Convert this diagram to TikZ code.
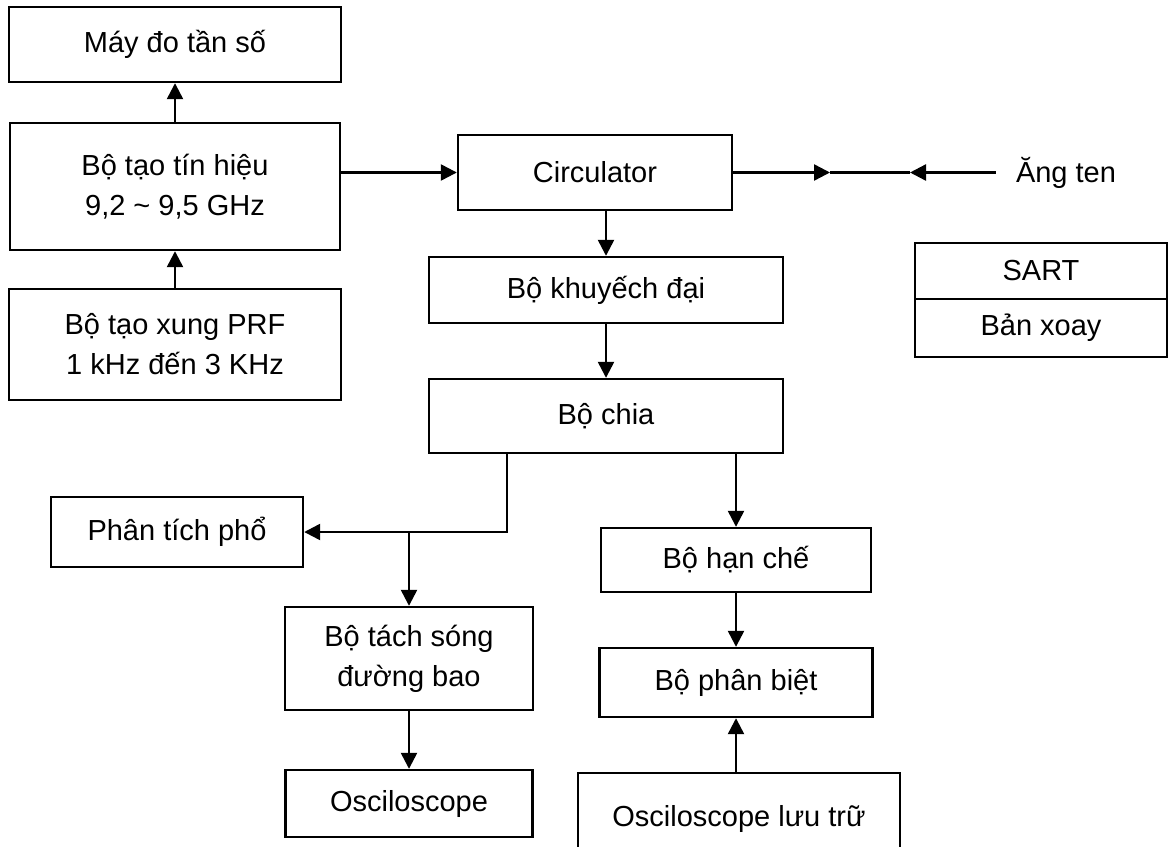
\documentclass[tikz,border=0pt]{standalone}
\usepackage{fontspec}
\setmainfont{Liberation Sans}
\usetikzlibrary{arrows.meta}

\begin{document}
\begin{tikzpicture}[x=0.5pt, y=-0.5pt,
    block/.style={draw, line width=1.2pt, align=center, inner sep=0pt, font=\fontsize{14.5}{20}\selectfont},
    arrow/.style={line width=1.2pt, -{Triangle[length=8pt, width=8pt]}}]

    \newcommand*{\sigy}{172.5}%
    \useasboundingbox (0,0) rectangle (1171,846);

    % left column ↓
    \node [block, minimum width=166pt, minimum height=37.5pt] (may) at (175,44.5) {Máy đo tần số};
    \node [block, minimum width=165pt, minimum height=63.5pt] (gen) at (175,186.5) {Bộ tạo tín hiệu\\9,2 \textasciitilde{} 9,5 GHz};
    \node [block, minimum width=166pt, minimum height=55.5pt] (prf) at (175,344.5) {Bộ tạo xung PRF\\1 kHz đến 3 KHz};

    % middle column ↓
    \node [block, minimum width=137pt, minimum height=37.5pt] (circ) at (595,\sigy) {Circulator};
    \node [block, minimum width=177pt, minimum height=33pt] (kd) at (606,290) {Bộ khuyếch đại};
    \node [block, minimum width=177pt, minimum height=37pt] (chia) at (606,416) {Bộ chia};

    \node [block, minimum width=126pt, minimum height=35pt] (ptp) at (177,532) {Phân tích phổ};
    \node [block, minimum width=124pt, minimum height=51.5pt] (ts) at (409,658.5) {Bộ tách sóng\\đường bao};
    \node [block, minimum width=123.5pt, minimum height=33.5pt] (osc) at (409,803.5) {Osciloscope};

    \node [block, minimum width=135pt, minimum height=32pt] (hc) at (736,560) {Bộ hạn chế};
    \node [block, minimum width=136.5pt, minimum height=34.5pt] (pb) at (736,682.5) {Bộ phân biệt};
    \node [block, minimum width=161pt, minimum height=46pt] (luu) at (739,819) {Osciloscope lưu trữ};

    % right side ↓
    \node [block, minimum width=126pt, minimum height=28pt] (sart) at (1041,271) {SART};
    \node [block, minimum width=126pt, minimum height=29pt] (xoay) at (1041,328) {Bản xoay};
    \node [font=\fontsize{14.5}{20}\selectfont, inner sep=0pt, inner xsep=10pt] (ant) at (1066,\sigy) {Ăng ten};

    \coordinate (mA) at (830,\sigy);
    \coordinate (mB) at (910,\sigy);
    \coordinate (jn) at (507,532);

    % vertical ↓
    \foreach \a/\b in {gen/may, prf/gen, kd/chia, ts/osc, hc/pb}
        \draw[arrow] (\a) -- (\b);

    \draw[arrow] (circ.south -| kd.north) -- (kd.north);
    \draw[arrow] (chia.south -| hc.north) -- (hc.north);
    \draw[arrow] (luu.north -| pb.south) -- (pb.south);

    % horizontal ↓
    \draw[arrow] (gen.east |- circ.west) -- (circ.west);
    \draw[arrow] (circ.east) -- (mA);
    \draw[line width=1.2pt] (mA) -- (mB);
    \draw[arrow] (ant.west) -- (mB);

    % splitter branch ↓
    \draw[arrow] (chia.south -| jn) -- (jn) -- (ptp.east);
    \draw[arrow] (ts.north |- jn) -- (ts.north);

\end{tikzpicture}
\end{document}
